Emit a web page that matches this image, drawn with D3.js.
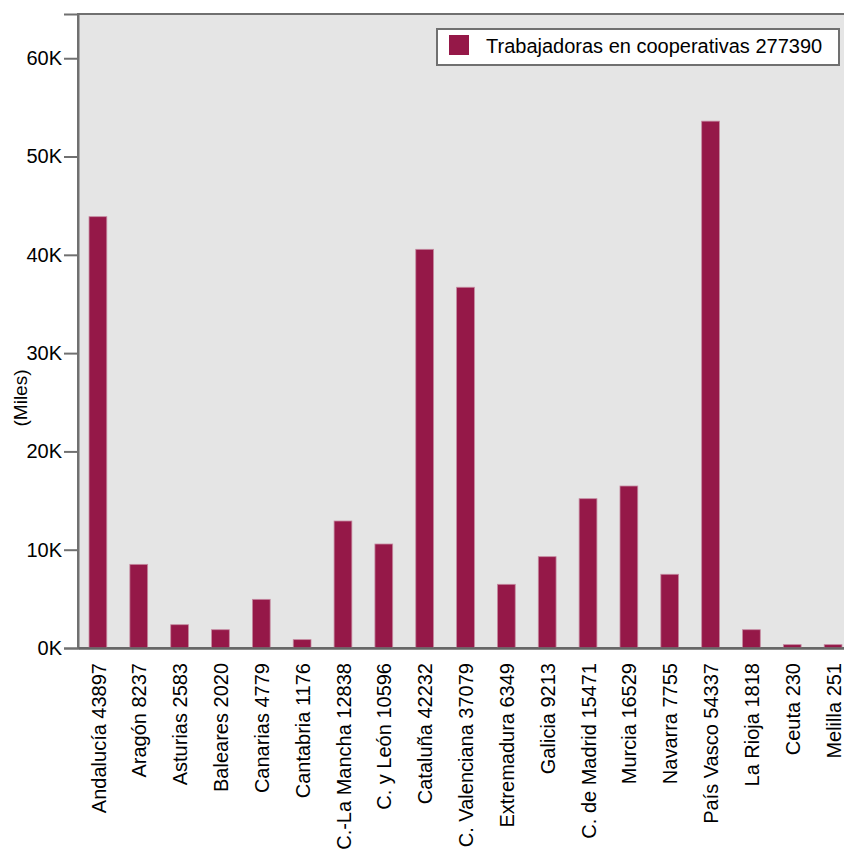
<!DOCTYPE html>
<html>
<head>
<meta charset="utf-8">
<script src="https://cdn.jsdelivr.net/npm/d3@7"></script>
<style>
  body { margin: 0; background: #fff; }
  svg { display: block; font-family: "Liberation Sans", Arial, sans-serif; }
</style>
</head>
<body>
<svg id="chart" width="844" height="849"></svg>
<script>
// ----------- DATA -----------
const regions = ["Andalucía", "Aragón", "Asturias", "Baleares", "Canarias", "Cantabria",
  "C.-La Mancha", "C. y León", "Cataluña", "C. Valenciana", "Extremadura", "Galicia",
  "C. de Madrid", "Murcia", "Navarra", "País Vasco", "La Rioja", "Ceuta", "Melilla"];
const labelNumbers = [43897, 8237, 2583, 2020, 4779, 1176, 12838, 10596, 42232, 37079,
  6349, 9213, 15471, 16529, 7755, 54337, 1818, 230, 251];
// bar heights as drawn in the picture
const barValues = [43880, 8510, 2370, 1860, 4950, 850, 12920, 10580, 40560, 36700,
  6480, 9290, 15190, 16480, 7500, 53600, 1860, 340, 340];
const yTicks = [0, 10000, 20000, 30000, 40000, 50000, 60000];
const legendLabel = "Trabajadoras en cooperativas 277390";
const yTitle = "(Miles)";

// ----------- CHART -----------
const svg = d3.select("#chart");
const plotLeft = 78, plotTop = 14, plotRight = 853, plotBottom = 648;
const barColor = "#951848";

const x = d3.scaleBand()
  .domain(regions)
  .range([plotLeft, plotRight])
  .paddingInner(0.565)
  .paddingOuter(0.27);

const y = d3.scaleLinear()
  .domain([0, 64500])
  .range([plotBottom, plotTop]);

// plot background + frame
svg.append("rect")
  .attr("x", plotLeft).attr("y", plotTop)
  .attr("width", plotRight - plotLeft).attr("height", plotBottom - plotTop)
  .attr("fill", "#e5e5e5")
  .attr("stroke", "#707070")
  .attr("stroke-width", 2);

// bars
svg.selectAll("rect.bar")
  .data(regions)
  .enter()
  .append("rect")
  .attr("class", "bar")
  .attr("x", d => x(d))
  .attr("y", (d, i) => y(barValues[i]))
  .attr("width", x.bandwidth())
  .attr("height", (d, i) => plotBottom - y(barValues[i]))
  .attr("fill", barColor)
  .attr("stroke", "#c58aa0")
  .attr("stroke-width", 0.8);

// y axis
const yAxis = svg.append("g")
  .attr("transform", `translate(${plotLeft},0)`)
  .call(d3.axisLeft(y).tickValues(yTicks).tickFormat(d => (d / 1000) + "K")
    .tickSize(14).tickPadding(2));
yAxis.select(".domain").attr("stroke", "#707070").attr("stroke-width", 2);
yAxis.selectAll(".tick line").attr("stroke", "#707070").attr("stroke-width", 2);
yAxis.selectAll(".tick text")
  .attr("font-size", 20).attr("fill", "#000")
  .attr("font-family", "Liberation Sans, Arial, sans-serif");

// x axis
const xAxis = svg.append("g")
  .attr("transform", `translate(0,${plotBottom})`)
  .call(d3.axisBottom(x).tickSize(0).tickFormat((d, i) => d + " " + labelNumbers[i]));
xAxis.select(".domain").attr("stroke", "#666").attr("stroke-width", 2.5);
xAxis.selectAll(".tick text")
  .attr("font-size", 20).attr("fill", "#000")
  .attr("font-family", "Liberation Sans, Arial, sans-serif")
  .attr("text-anchor", "end")
  .attr("transform", "rotate(-90)")
  .attr("x", -15)
  .attr("y", 0)
  .attr("dy", "0.38em");

// y title
svg.append("text")
  .attr("transform", "translate(27,398) rotate(-90)")
  .attr("text-anchor", "middle")
  .attr("font-size", 19)
  .text(yTitle);

// legend
const lg = svg.append("g");
lg.append("rect")
  .attr("x", 437).attr("y", 29)
  .attr("width", 402).attr("height", 36)
  .attr("fill", "#fff")
  .attr("stroke", "#707070")
  .attr("stroke-width", 2);
lg.append("rect")
  .attr("x", 449).attr("y", 35)
  .attr("width", 20).attr("height", 20)
  .attr("fill", barColor);
lg.append("text")
  .attr("x", 486).attr("y", 53)
  .attr("font-size", 20)
  .text(legendLabel);
</script>
</body>
</html>
